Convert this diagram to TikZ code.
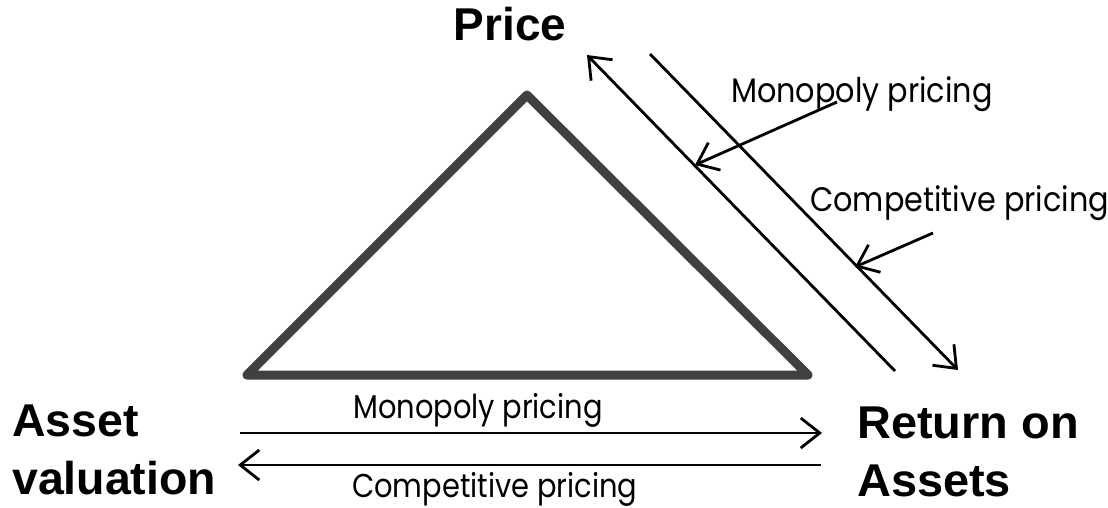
\documentclass[tikz,border=0pt]{standalone}
\usepackage{fontspec}
\setmainfont{Liberation Sans}
\newfontfamily\lblfont{Poppins}
\usetikzlibrary{arrows.meta}
\newcommand{\hsc}[2]{\scalebox{#1}[1]{#2}}
\begin{document}
\begin{tikzpicture}[x=1pt,y=-1pt,
  big/.style={font=\fontsize{46}{58}\selectfont\bfseries, inner sep=0pt, align=left},
  smalltop/.style={font=\lblfont\fontsize{34}{36}\selectfont, inner sep=0pt, anchor=base west},
  smallbot/.style={font=\lblfont\fontsize{33}{36}\selectfont, inner sep=0pt, anchor=base west},
  arr/.style={line width=2.8pt, -{Straight Barb[length=19pt,width=30pt,line width=2.8pt]}},
  tri/.style={line width=9pt, draw=black!75, line join=round}]
\useasboundingbox (0,0) rectangle (1108,508);
% triangle
\coordinate (apex) at (527,95);
\coordinate (bl) at (247,375);
\coordinate (br) at (808,375);
\draw[tri] (apex) -- (br) -- (bl) -- cycle;
% labels
\node[big, anchor=base] (price) at (510,41) {Price};
\node[big, anchor=north west] (asset) at (12,405) {\hsc{1.01}{Asset}\\\hsc{1.01}{valuation}};
\node[big, anchor=north west] (roa) at (857,407) {\hsc{1.02}{Return on}\\\hsc{1.02}{Assets}};
% diagonal arrows
\coordinate (d1s) at (895,371);
\coordinate (d1e) at (587,55);
\coordinate (d2s) at (650,54);
\coordinate (d2e) at (958,370);
\draw[arr] (d1s) -- (d1e);
\draw[arr] (d2s) -- (d2e);
\node[smalltop] (mp1) at (731,103) {\hsc{0.89}{Monopoly pricing}};
\node[smalltop] (cp1) at (810,211) {\hsc{0.89}{Competitive pricing}};
\coordinate (p1s) at (837,102);
\coordinate (p1e) at (695,165);
\coordinate (p2s) at (933,233);
\coordinate (p2e) at (855,267);
\draw[arr] (p1s) -- (p1e);
\draw[arr] (p2s) -- (p2e);
% horizontal arrows
\coordinate (h1s) at (240,433);
\coordinate (h1e) at (822,433);
\coordinate (h2s) at (821,465);
\coordinate (h2e) at (238,465);
\draw[arr] (h1s) -- (h1e);
\draw[arr] (h2s) -- (h2e);
\node[smallbot] (mp2) at (353,418) {\hsc{0.875}{Monopoly pricing}};
\node[smallbot] (cp2) at (352,497) {\hsc{0.875}{Competitive pricing}};
\end{tikzpicture}
\end{document}
